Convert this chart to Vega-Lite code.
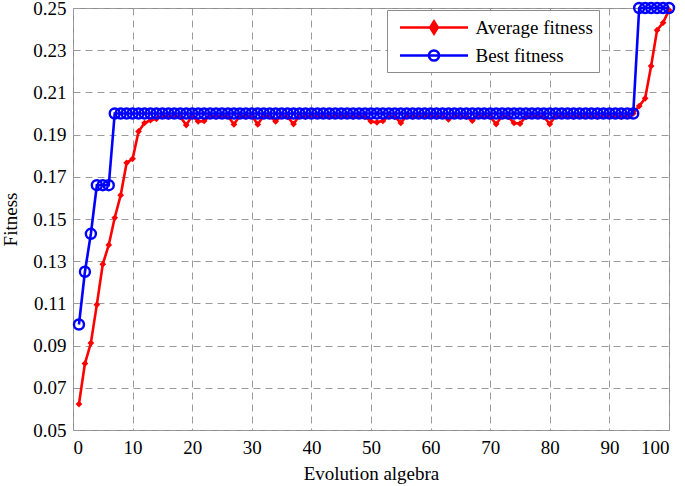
{
  "$schema": "https://vega.github.io/schema/vega-lite/v6.json",
  "autosize": "none",
  "width": 596,
  "height": 422,
  "padding": {"left": 73, "top": 8, "right": 16, "bottom": 56},
  "background": "white",
  "config": {
    "view": {"stroke": "#8c8c8c", "strokeWidth": 1},
    "font": "Liberation Serif",
    "axis": {
      "grid": true,
      "gridColor": "#9a9a9a",
      "gridDash": [7, 5],
      "gridWidth": 1,
      "domain": false,
      "ticks": false
    }
  },
  "data": {
    "values": [
      {"g": 1, "Average fitness": 0.0623, "Best fitness": 0.100},
      {"g": 2, "Average fitness": 0.0815, "Best fitness": 0.125},
      {"g": 3, "Average fitness": 0.0912, "Best fitness": 0.143},
      {"g": 4, "Average fitness": 0.1094, "Best fitness": 0.166},
      {"g": 5, "Average fitness": 0.1286, "Best fitness": 0.166},
      {"g": 6, "Average fitness": 0.1377, "Best fitness": 0.166},
      {"g": 7, "Average fitness": 0.1506, "Best fitness": 0.200},
      {"g": 8, "Average fitness": 0.1613, "Best fitness": 0.200},
      {"g": 9, "Average fitness": 0.1766, "Best fitness": 0.200},
      {"g": 10, "Average fitness": 0.1785, "Best fitness": 0.200},
      {"g": 11, "Average fitness": 0.1915, "Best fitness": 0.200},
      {"g": 12, "Average fitness": 0.1955, "Best fitness": 0.200},
      {"g": 13, "Average fitness": 0.1968, "Best fitness": 0.200},
      {"g": 14, "Average fitness": 0.1975, "Best fitness": 0.200},
      {"g": 15, "Average fitness": 0.1990, "Best fitness": 0.200},
      {"g": 16, "Average fitness": 0.1985, "Best fitness": 0.200},
      {"g": 17, "Average fitness": 0.1990, "Best fitness": 0.200},
      {"g": 18, "Average fitness": 0.1985, "Best fitness": 0.200},
      {"g": 19, "Average fitness": 0.1945, "Best fitness": 0.200},
      {"g": 20, "Average fitness": 0.1990, "Best fitness": 0.200},
      {"g": 21, "Average fitness": 0.1962, "Best fitness": 0.200},
      {"g": 22, "Average fitness": 0.1965, "Best fitness": 0.200},
      {"g": 23, "Average fitness": 0.1990, "Best fitness": 0.200},
      {"g": 24, "Average fitness": 0.1985, "Best fitness": 0.200},
      {"g": 25, "Average fitness": 0.1990, "Best fitness": 0.200},
      {"g": 26, "Average fitness": 0.1988, "Best fitness": 0.200},
      {"g": 27, "Average fitness": 0.1948, "Best fitness": 0.200},
      {"g": 28, "Average fitness": 0.1990, "Best fitness": 0.200},
      {"g": 29, "Average fitness": 0.1985, "Best fitness": 0.200},
      {"g": 30, "Average fitness": 0.1990, "Best fitness": 0.200},
      {"g": 31, "Average fitness": 0.1948, "Best fitness": 0.200},
      {"g": 32, "Average fitness": 0.1990, "Best fitness": 0.200},
      {"g": 33, "Average fitness": 0.1988, "Best fitness": 0.200},
      {"g": 34, "Average fitness": 0.1962, "Best fitness": 0.200},
      {"g": 35, "Average fitness": 0.1990, "Best fitness": 0.200},
      {"g": 36, "Average fitness": 0.1985, "Best fitness": 0.200},
      {"g": 37, "Average fitness": 0.1950, "Best fitness": 0.200},
      {"g": 38, "Average fitness": 0.1990, "Best fitness": 0.200},
      {"g": 39, "Average fitness": 0.1985, "Best fitness": 0.200},
      {"g": 40, "Average fitness": 0.1990, "Best fitness": 0.200},
      {"g": 41, "Average fitness": 0.1988, "Best fitness": 0.200},
      {"g": 42, "Average fitness": 0.1990, "Best fitness": 0.200},
      {"g": 43, "Average fitness": 0.1985, "Best fitness": 0.200},
      {"g": 44, "Average fitness": 0.1990, "Best fitness": 0.200},
      {"g": 45, "Average fitness": 0.1988, "Best fitness": 0.200},
      {"g": 46, "Average fitness": 0.1990, "Best fitness": 0.200},
      {"g": 47, "Average fitness": 0.1985, "Best fitness": 0.200},
      {"g": 48, "Average fitness": 0.1990, "Best fitness": 0.200},
      {"g": 49, "Average fitness": 0.1985, "Best fitness": 0.200},
      {"g": 50, "Average fitness": 0.1962, "Best fitness": 0.200},
      {"g": 51, "Average fitness": 0.1958, "Best fitness": 0.200},
      {"g": 52, "Average fitness": 0.1965, "Best fitness": 0.200},
      {"g": 53, "Average fitness": 0.1988, "Best fitness": 0.200},
      {"g": 54, "Average fitness": 0.1985, "Best fitness": 0.200},
      {"g": 55, "Average fitness": 0.1955, "Best fitness": 0.200},
      {"g": 56, "Average fitness": 0.1990, "Best fitness": 0.200},
      {"g": 57, "Average fitness": 0.1985, "Best fitness": 0.200},
      {"g": 58, "Average fitness": 0.1990, "Best fitness": 0.200},
      {"g": 59, "Average fitness": 0.1988, "Best fitness": 0.200},
      {"g": 60, "Average fitness": 0.1990, "Best fitness": 0.200},
      {"g": 61, "Average fitness": 0.1985, "Best fitness": 0.200},
      {"g": 62, "Average fitness": 0.1990, "Best fitness": 0.200},
      {"g": 63, "Average fitness": 0.1972, "Best fitness": 0.200},
      {"g": 64, "Average fitness": 0.1990, "Best fitness": 0.200},
      {"g": 65, "Average fitness": 0.1988, "Best fitness": 0.200},
      {"g": 66, "Average fitness": 0.1985, "Best fitness": 0.200},
      {"g": 67, "Average fitness": 0.1966, "Best fitness": 0.200},
      {"g": 68, "Average fitness": 0.1990, "Best fitness": 0.200},
      {"g": 69, "Average fitness": 0.1988, "Best fitness": 0.200},
      {"g": 70, "Average fitness": 0.1985, "Best fitness": 0.200},
      {"g": 71, "Average fitness": 0.1950, "Best fitness": 0.200},
      {"g": 72, "Average fitness": 0.1988, "Best fitness": 0.200},
      {"g": 73, "Average fitness": 0.1985, "Best fitness": 0.200},
      {"g": 74, "Average fitness": 0.1955, "Best fitness": 0.200},
      {"g": 75, "Average fitness": 0.1952, "Best fitness": 0.200},
      {"g": 76, "Average fitness": 0.1985, "Best fitness": 0.200},
      {"g": 77, "Average fitness": 0.1990, "Best fitness": 0.200},
      {"g": 78, "Average fitness": 0.1988, "Best fitness": 0.200},
      {"g": 79, "Average fitness": 0.1985, "Best fitness": 0.200},
      {"g": 80, "Average fitness": 0.1950, "Best fitness": 0.200},
      {"g": 81, "Average fitness": 0.1990, "Best fitness": 0.200},
      {"g": 82, "Average fitness": 0.1988, "Best fitness": 0.200},
      {"g": 83, "Average fitness": 0.1990, "Best fitness": 0.200},
      {"g": 84, "Average fitness": 0.1985, "Best fitness": 0.200},
      {"g": 85, "Average fitness": 0.1990, "Best fitness": 0.200},
      {"g": 86, "Average fitness": 0.1988, "Best fitness": 0.200},
      {"g": 87, "Average fitness": 0.1990, "Best fitness": 0.200},
      {"g": 88, "Average fitness": 0.1985, "Best fitness": 0.200},
      {"g": 89, "Average fitness": 0.1990, "Best fitness": 0.200},
      {"g": 90, "Average fitness": 0.1988, "Best fitness": 0.200},
      {"g": 91, "Average fitness": 0.1990, "Best fitness": 0.200},
      {"g": 92, "Average fitness": 0.1985, "Best fitness": 0.200},
      {"g": 93, "Average fitness": 0.1990, "Best fitness": 0.200},
      {"g": 94, "Average fitness": 0.2000, "Best fitness": 0.200},
      {"g": 95, "Average fitness": 0.2035, "Best fitness": 0.250},
      {"g": 96, "Average fitness": 0.2072, "Best fitness": 0.250},
      {"g": 97, "Average fitness": 0.2225, "Best fitness": 0.250},
      {"g": 98, "Average fitness": 0.2395, "Best fitness": 0.250},
      {"g": 99, "Average fitness": 0.2430, "Best fitness": 0.250},
      {"g": 100, "Average fitness": 0.2490, "Best fitness": 0.250}
    ]
  },
  "transform": [
    {"fold": ["Average fitness", "Best fitness"], "as": ["series", "fitness"]}
  ],
  "encoding": {
    "x": {
      "field": "g",
      "type": "quantitative",
      "scale": {"domain": [0, 100], "nice": false, "zero": false},
      "axis": {
        "values": [0, 10, 20, 30, 40, 50, 60, 70, 80, 90, 100],
        "title": "Evolution algebra",
        "labelFont": "Liberation Serif",
        "labelFontSize": 19,
        "labelColor": "black",
        "titleFont": "Liberation Serif",
        "titleFontSize": 19,
        "titleFontWeight": "normal",
        "titleColor": "black",
        "labelPadding": 8,
        "titlePadding": 7
      }
    },
    "y": {
      "field": "fitness",
      "type": "quantitative",
      "scale": {"domain": [0.05, 0.25], "nice": false, "zero": false},
      "axis": {
        "values": [0.05, 0.07, 0.09, 0.11, 0.13, 0.15, 0.17, 0.19, 0.21, 0.23, 0.25],
        "format": ".2f",
        "title": "Fitness",
        "labelFont": "Liberation Serif",
        "labelFontSize": 19,
        "labelColor": "black",
        "titleFont": "Liberation Serif",
        "titleFontSize": 19,
        "titleFontWeight": "normal",
        "titleColor": "black",
        "labelPadding": 7,
        "titlePadding": 12
      }
    }
  },
  "layer": [
    {
      "transform": [{"filter": "datum.series == 'Average fitness'"}],
      "mark": {"type": "line", "strokeWidth": 2.6},
      "encoding": {
        "color": {
          "field": "series",
          "type": "nominal",
          "scale": {"domain": ["Average fitness", "Best fitness"], "range": ["#ff0000", "#0000ff"]},
          "legend": {
            "orient": "none",
            "legendX": 314,
            "legendY": 2,
            "title": null,
            "padding": 6,
            "rowPadding": 5,
            "symbolSize": 400,
            "symbolStrokeWidth": 2.6,
            "symbolOffset": 29.5,
            "labelOffset": 30,
            "labelFont": "Liberation Serif",
            "labelFontSize": 19,
            "labelColor": "black",
            "labelExpr": "datum.label + '\u00a0\u00a0\u00a0\u00a0'",
            "fillColor": "white",
            "strokeColor": "#8c8c8c",
            "cornerRadius": 0,
            "encode": {
              "symbols": {
                "update": {
                  "shape": {"signal": "datum.value == 'Average fitness' ? 'M-3.4,0L3.4,0M0,-0.6L0.38,0L0,0.6L-0.38,0Z' : 'M-3.4,0L3.4,0M0.5,0A0.5,0.5,0,1,1,-0.5,0A0.5,0.5,0,1,1,0.5,0Z'"},
                  "fill": {"signal": "datum.value == 'Average fitness' ? '#ff0000' : 'transparent'"},
                  "stroke": {"signal": "datum.value == 'Average fitness' ? '#ff0000' : '#0000ff'"},
                  "strokeWidth": {"value": 2.6},
                  "opacity": {"value": 1}
                }
              }
            }
          }
        }
      }
    },
    {
      "transform": [{"filter": "datum.series == 'Average fitness'"}],
      "mark": {"type": "point", "shape": "diamond", "filled": true, "color": "#ff0000", "size": 45, "opacity": 1}
    },
    {
      "transform": [{"filter": "datum.series == 'Best fitness'"}],
      "mark": {"type": "line", "strokeWidth": 2.6},
      "encoding": {
        "color": {"field": "series", "type": "nominal"}
      }
    },
    {
      "transform": [{"filter": "datum.series == 'Best fitness'"}],
      "mark": {"type": "point", "shape": "circle", "filled": false, "color": "#0000ff", "size": 100, "strokeWidth": 2.4, "opacity": 1}
    }
  ]
}
